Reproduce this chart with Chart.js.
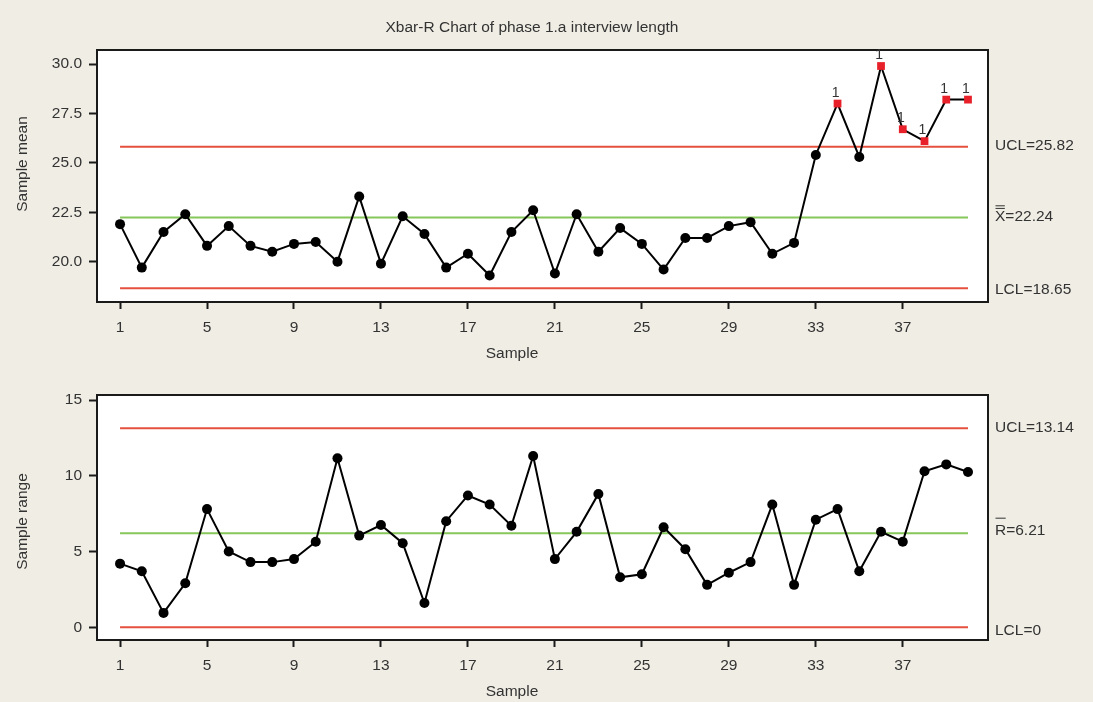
<!DOCTYPE html>
<html>
<head>
<meta charset="utf-8">
<script src="https://cdn.jsdelivr.net/npm/chart.js@4.4.0/dist/chart.umd.min.js"></script>
<style>
  html, body { margin: 0; padding: 0; background: #f0ede4; }
  body { width: 1093px; height: 702px; position: relative; overflow: hidden; }
  #xbar { position: absolute; left: 0; top: 0; }
  #range { position: absolute; left: 0; top: 370px; }
</style>
</head>
<body>
<canvas id="xbar" width="1093" height="370"></canvas>
<canvas id="range" width="1093" height="332"></canvas>
<script>
// ---------------- data ----------------
const chartTitle = 'Xbar-R Chart of phase 1.a interview length';
const samples = [1,2,3,4,5,6,7,8,9,10,11,12,13,14,15,16,17,18,19,20,
                 21,22,23,24,25,26,27,28,29,30,31,32,33,34,35,36,37,38,39,40];
const sampleMeans = [21.9,19.7,21.5,22.4,20.8,21.8,20.8,20.5,20.9,21.0,
                     20.0,23.3,19.9,22.3,21.4,19.7,20.4,19.3,21.5,22.6,
                     19.4,22.4,20.5,21.7,20.9,19.6,21.2,21.2,21.8,22.0,
                     20.4,20.95,25.4,28.0,25.3,29.9,26.7,26.1,28.2,28.2];
const sampleRanges = [4.2,3.7,0.95,2.9,7.8,5.0,4.3,4.3,4.5,5.65,
                      11.15,6.05,6.75,5.55,1.6,7.0,8.7,8.1,6.7,11.3,
                      4.5,6.3,8.8,3.3,3.5,6.6,5.15,2.8,3.6,4.3,
                      8.1,2.8,7.1,7.8,3.7,6.3,5.65,10.3,10.75,10.25];
const flaggedMeanSamples = [34,36,37,38,39,40];
const flaggedRangeSamples = [];
const flagText = '1';
const meanUCL = 25.82, meanCenter = 22.24, meanLCL = 18.65;
const rangeUCL = 13.14, rangeCenter = 6.21, rangeLCL = 0;
const xTickValues = [1,5,9,13,17,21,25,29,33,37];
const meanTickValues = [20.0,22.5,25.0,27.5,30.0];
const rangeTickValues = [0,5,10,15];
const xTitle = 'Sample';
const meanTitle = 'Sample mean';
const rangeTitle = 'Sample range';

// ---------------- style ----------------
const FONT = "'Liberation Sans', Arial, sans-serif";
const FS = 15.5;
const TEXT = '#333333';
const BG = '#f0ede4';
const RED_LINE = '#e5503e';
const GREEN_LINE = '#86c65a';
const FLAG_RED = '#e8202a';

Chart.defaults.font.family = FONT;
Chart.defaults.font.size = FS;
Chart.defaults.color = TEXT;

function limitLine(y, color) {
  return {
    type: 'line',
    data: [{x: samples[0], y: y}, {x: samples[samples.length - 1], y: y}],
    borderColor: color, borderWidth: 2,
    pointRadius: 0, pointHoverRadius: 0, fill: false, order: 1
  };
}

function seriesDataset(values, flagged) {
  const isF = samples.map(s => flagged.includes(s));
  return {
    type: 'line',
    data: samples.map((s, i) => ({x: s, y: values[i]})),
    borderColor: '#000', borderWidth: 2, tension: 0, fill: false,
    pointRadius: isF.map(f => f ? 5.5 : 5),
    pointStyle: isF.map(f => f ? 'rect' : 'circle'),
    pointBackgroundColor: isF.map(f => f ? FLAG_RED : '#000'),
    pointBorderColor: isF.map(f => f ? FLAG_RED : '#000'),
    pointBorderWidth: 0,
    order: 0
  };
}

const overlay = {
  id: 'overlay',
  beforeDraw(chart) {
    const {ctx, chartArea: a} = chart;
    ctx.save();
    ctx.fillStyle = BG;
    ctx.fillRect(0, 0, chart.width, chart.height);
    ctx.fillStyle = '#ffffff';
    ctx.fillRect(a.left, a.top, a.right - a.left, a.bottom - a.top);
    ctx.restore();
  },
  afterDraw(chart, args, o) {
    const {ctx, chartArea: a, scales} = chart;
    ctx.save();
    // plot frame
    ctx.strokeStyle = '#1a1a1a';
    ctx.lineWidth = 2;
    ctx.strokeRect(a.left, a.top, a.right - a.left, a.bottom - a.top);

    ctx.fillStyle = TEXT;
    ctx.strokeStyle = TEXT;
    ctx.font = FS + 'px ' + FONT;

    // limit labels on the right
    ctx.textAlign = 'left';
    ctx.textBaseline = 'middle';
    (o.limitLabels || []).forEach(l => {
      const y = scales.y.getPixelForValue(l.value) + (l.dy || 0);
      const x = a.right + 7;
      ctx.fillText(l.symbol + '=' + l.value, x, y);
      if (l.bars) {
        const w = ctx.measureText(l.symbol).width;
        ctx.lineWidth = 1;
        for (let b = 0; b < l.bars; b++) {
          const by = y + l.barY - b * 2.6;
          ctx.beginPath();
          ctx.moveTo(x + 0.5, by);
          ctx.lineTo(x + w - 0.5, by);
          ctx.stroke();
        }
      }
    });

    // flags above out-of-control points
    if (o.flags) {
      ctx.font = '14px ' + FONT;
      ctx.textAlign = 'center';
      ctx.textBaseline = 'alphabetic';
      o.flags.samples.forEach(s => {
        const i = samples.indexOf(s);
        const px = scales.x.getPixelForValue(s);
        const py = scales.y.getPixelForValue(o.flags.values[i]);
        ctx.fillText(flagText, px - 2, py - 7);
      });
    }

    // titles
    ctx.font = FS + 'px ' + FONT;
    ctx.textAlign = 'center';
    ctx.textBaseline = 'middle';
    if (o.title) {
      ctx.font = '15.5px ' + FONT;
      ctx.fillText(o.title.text, o.title.x, o.title.y);
      ctx.font = FS + 'px ' + FONT;
    }
    if (o.xTitle) ctx.fillText(o.xTitle.text, o.xTitle.x, a.bottom + o.xTitle.dy);
    if (o.yTitle) {
      ctx.translate(o.yTitle.x, o.yTitle.y);
      ctx.rotate(-Math.PI / 2);
      ctx.fillText(o.yTitle.text, 0, 0);
    }
    ctx.restore();
  }
};

function makeScales(yMin, yMax, yTicks, yFmt, xHeight) {
  return {
    x: {
      type: 'linear', min: -0.06, max: 40.92,
      afterBuildTicks: s => { s.ticks = xTickValues.map(v => ({value: v})); },
      afterFit: s => { s.height = xHeight; },
      grid: {drawOnChartArea: false, drawTicks: true, tickLength: 7, tickWidth: 2, tickColor: '#1a1a1a'},
      border: {display: false},
      ticks: {color: TEXT, font: {size: FS}, padding: 9, maxRotation: 0, autoSkip: false,
              callback: v => String(v)},
      title: {display: false}
    },
    y: {
      type: 'linear', min: yMin, max: yMax,
      afterBuildTicks: s => { s.ticks = yTicks.map(v => ({value: v})); },
      afterFit: s => { s.width = 97; },
      grid: {drawOnChartArea: false, drawTicks: true, tickLength: 8, tickWidth: 2, tickColor: '#1a1a1a'},
      border: {display: false},
      ticks: {color: TEXT, font: {size: FS}, padding: 7, autoSkip: false, callback: yFmt},
      title: {display: false}
    }
  };
}

const common = {
  responsive: false,
  animation: false,
  devicePixelRatio: 1,
  events: []
};

new Chart(document.getElementById('xbar'), {
  type: 'line',
  data: {
    datasets: [
      seriesDataset(sampleMeans, flaggedMeanSamples),
      limitLine(meanUCL, RED_LINE),
      limitLine(meanCenter, GREEN_LINE),
      limitLine(meanLCL, RED_LINE)
    ]
  },
  options: Object.assign({}, common, {
    layout: {padding: {left: 0, right: 105, top: 50, bottom: 0}},
    scales: makeScales(17.96, 30.71, meanTickValues, v => Number(v).toFixed(1), 68),
    plugins: {
      legend: {display: false},
      tooltip: {enabled: false},
      overlay: {
        limitLabels: [
          {symbol: 'UCL', value: meanUCL, dy: -1},
          {symbol: 'X', value: meanCenter, bars: 2, barY: -8, dy: -1},
          {symbol: 'LCL', value: meanLCL, dy: 1}
        ],
        flags: {samples: flaggedMeanSamples, values: sampleMeans},
        title: {text: chartTitle, x: 532, y: 28},
        xTitle: {text: xTitle, x: 512, dy: 52},
        yTitle: {text: meanTitle, x: 22.5, y: 164}
      }
    }
  }),
  plugins: [overlay]
});

new Chart(document.getElementById('range'), {
  type: 'line',
  data: {
    datasets: [
      seriesDataset(sampleRanges, flaggedRangeSamples),
      limitLine(rangeUCL, RED_LINE),
      limitLine(rangeCenter, GREEN_LINE),
      limitLine(rangeLCL, RED_LINE)
    ]
  },
  options: Object.assign({}, common, {
    layout: {padding: {left: 0, right: 105, top: 25, bottom: 0}},
    scales: makeScales(-0.84, 15.33, rangeTickValues, v => String(v), 62),
    plugins: {
      legend: {display: false},
      tooltip: {enabled: false},
      overlay: {
        limitLabels: [
          {symbol: 'UCL', value: rangeUCL, dy: 0},
          {symbol: 'R', value: rangeCenter, bars: 1, barY: -13, dy: -2},
          {symbol: 'LCL', value: rangeLCL, dy: 3}
        ],
        xTitle: {text: xTitle, x: 512, dy: 52},
        yTitle: {text: rangeTitle, x: 22.5, y: 151.5}
      }
    }
  }),
  plugins: [overlay]
});
</script>
</body>
</html>
